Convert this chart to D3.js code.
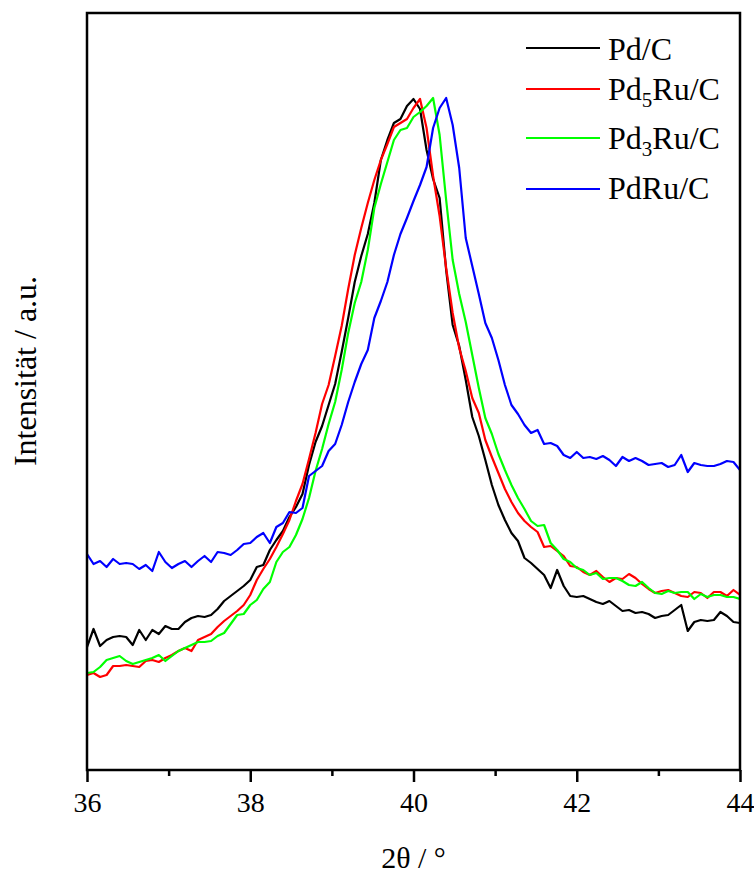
<!DOCTYPE html>
<html>
<head>
<meta charset="utf-8">
<script src="https://cdn.jsdelivr.net/npm/d3@7"></script>
<style>
  html, body { margin: 0; padding: 0; background: #fff; }
  svg { display: block; }
  text { font-family: "Liberation Serif", "Times New Roman", serif; fill: #000; }
</style>
</head>
<body>
<svg id="chart" width="754" height="878"></svg>
<script>
// 2θ grid (degrees)
const twoTheta = [
  36.00,36.08,36.16,36.24,36.32,36.40,36.48,36.56,36.64,36.72,36.80,36.88,36.96,37.04,37.12,37.20,37.28,37.36,37.44,37.52,
  37.60,37.68,37.76,37.84,37.92,38.00,38.08,38.16,38.24,38.32,38.40,38.48,38.56,38.64,38.72,38.80,38.88,38.96,39.04,39.12,
  39.20,39.28,39.36,39.44,39.52,39.60,39.68,39.76,39.84,39.92,40.00,40.08,40.16,40.24,40.32,40.40,40.48,40.56,40.64,40.72,
  40.80,40.88,40.96,41.04,41.12,41.20,41.28,41.36,41.44,41.52,41.60,41.68,41.76,41.84,41.92,42.00,42.08,42.16,42.24,42.32,
  42.40,42.48,42.56,42.64,42.72,42.80,42.88,42.96,43.04,43.12,43.20,43.28,43.36,43.44,43.52,43.60,43.68,43.76,43.84,43.92,
  44.00
];

// Intensities (a.u.)
const pdC = [
  123,141,124,130,133,134,133,125,140,130,140,136,144,141,141,148,152,154,153,155,161,169,174,179,184,190,
  203,205,220,230,239,253,263,276,305,328,344,365,386,
  418,452,488,514,536,567,610,630,647,651,664,671,661,620,591,572,500,445,424,390,
  353,334,310,285,265,250,237,229,212,207,201,195,182,200,184,174,173,
  174,171,168,166,169,164,159,160,157,158,156,152,154,155,160,165,139,148,150,149,150,158,154,148,147
];
const pd5RuC = [
  95,97,93,95,104,104,105,104,103,109,110,108,112,115,119,122,119,130,133,136,143,149,154,159,165,175,
  190,201,211,223,236,250,269,286,311,337,366,385,
  414,444,481,515,542,567,590,610,626,643,647,651,662,671,642,594,554,502,457,422,399,372,
  357,330,313,297,281,268,257,249,243,238,223,224,219,214,204,203,
  198,195,199,193,188,192,191,196,192,186,181,177,179,180,177,174,173,178,177,172,178,178,174,180,175
];
const pd3RuC = [
  97,98,103,110,112,114,109,106,108,110,112,115,109,114,119,122,125,128,128,129,134,137,146,155,156,165,
  170,181,188,208,218,223,235,251,272,299,321,346,368,400,
  437,467,488,520,562,586,608,630,640,642,653,658,664,672,635,570,510,476,448,415,382,
  352,336,316,300,285,272,261,249,244,245,227,220,211,208,202,
  200,195,197,191,192,192,189,185,184,188,182,177,176,179,177,178,178,171,176,173,175,175,173,173,171
];
const pdRuC = [
  216,206,209,203,211,206,207,206,201,205,199,218,208,202,206,209,203,209,214,208,218,217,215,220,226,227,
  233,237,227,243,247,258,257,262,294,299,304,319,326,345,
  368,388,406,420,452,469,488,515,536,552,569,585,603,642,662,672,645,602,532,504,476,447,432,
  410,385,365,356,345,337,340,326,327,324,315,312,318,
  312,313,311,314,310,304,313,309,312,309,305,306,307,303,305,315,298,307,305,304,304,306,309,308,300
];

const seriesNames = ["Pd/C", "Pd5Ru/C", "Pd3Ru/C", "PdRu/C"];
const seriesColors = ["#000000", "#ff0000", "#00ff00", "#0000ff"];
const seriesValues = [pdC, pd5RuC, pd3RuC, pdRuC];
const legendLabels = [
  {base: "Pd", sub: "", rest: "/C"},
  {base: "Pd", sub: "5", rest: "Ru/C"},
  {base: "Pd", sub: "3", rest: "Ru/C"},
  {base: "PdRu", sub: "", rest: "/C"}
];
const xMajorTicks = [36, 38, 40, 42, 44];
const xMinorTicks = [37, 39, 41, 43];

(function () {
const svg = d3.select("#chart");
const pL = 87, pR = 740, pT = 13, pB = 770;
const serif = '"Liberation Serif", "Times New Roman", serif';

const x = d3.scaleLinear().domain([36, 44]).range([pL, pR]);
const y = d3.scaleLinear().domain([0, 757]).range([pB, pT]);

svg.append("defs").append("clipPath").attr("id", "clip")
  .append("rect").attr("x", pL).attr("y", pT).attr("width", pR - pL).attr("height", pB - pT);

const line = d3.line().x((d, i) => x(twoTheta[i])).y(d => y(d));

const g = svg.append("g").attr("clip-path", "url(#clip)");
seriesValues.forEach((vals, si) => {
  g.append("path")
    .datum(vals)
    .attr("fill", "none")
    .attr("stroke", seriesColors[si])
    .attr("stroke-width", 2.2)
    .attr("stroke-linejoin", "round")
    .attr("d", line);
});

// frame
svg.append("rect")
  .attr("x", pL).attr("y", pT)
  .attr("width", pR - pL).attr("height", pB - pT)
  .attr("fill", "none").attr("stroke", "#000").attr("stroke-width", 2.5);

// bottom axis
const xAxis = d3.axisBottom(x).tickValues(xMajorTicks).tickSize(12).tickSizeOuter(0).tickPadding(10)
  .tickFormat(d3.format("d"));
const ax = svg.append("g").attr("transform", `translate(0,${pB})`).call(xAxis);
ax.select(".domain").remove();
ax.selectAll(".tick line").attr("stroke", "#000").attr("stroke-width", 2.5);
ax.selectAll(".tick text").style("font-family", serif).style("font-size", "28px").attr("fill", "#000");

const xMinor = d3.axisBottom(x).tickValues(xMinorTicks).tickSize(6).tickSizeOuter(0).tickFormat("");
const axm = svg.append("g").attr("transform", `translate(0,${pB})`).call(xMinor);
axm.select(".domain").remove();
axm.selectAll(".tick line").attr("stroke", "#000").attr("stroke-width", 2.5);

// axis titles
svg.append("text")
  .attr("x", (pL + pR) / 2)
  .attr("y", 868)
  .attr("text-anchor", "middle")
  .style("font-family", serif)
  .style("font-size", "30px")
  .text("2θ / °");

svg.append("text")
  .attr("transform", `translate(36,371) rotate(-90)`)
  .attr("text-anchor", "middle")
  .style("font-family", serif)
  .style("font-size", "32px")
  .text("Intensität / a.u.");

// legend
const legendY = [48, 89, 138, 189];
const legendBase = [60, 100, 149, 199];
legendLabels.forEach((lab, i) => {
  svg.append("line")
    .attr("x1", 526).attr("x2", 600)
    .attr("y1", legendY[i]).attr("y2", legendY[i])
    .attr("stroke", seriesColors[i]).attr("stroke-width", 2.2);
  const t = svg.append("text").attr("x", 608).attr("y", legendBase[i])
    .style("font-family", serif).style("font-size", "32px");
  t.append("tspan").text(lab.base);
  if (lab.sub) {
    t.append("tspan").style("font-size", "21px").attr("dy", 7).text(lab.sub);
    t.append("tspan").attr("dy", -7).text(lab.rest);
  } else {
    t.append("tspan").text(lab.rest);
  }
});
})();
</script>
</body>
</html>
